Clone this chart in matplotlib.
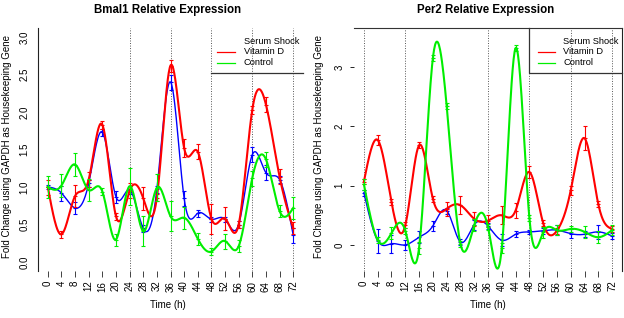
import numpy as np
import matplotlib
matplotlib.use("Agg")
import matplotlib.pyplot as plt
from matplotlib.lines import Line2D

plt.rcParams['font.family'] = ['Liberation Sans', 'DejaVu Sans']

# ---------------- data ----------------
hours = list(range(0, 73, 4))
tick_labels = [str(h) for h in hours]
series_names = ["Serum Shock", "Vitamin D", "Control"]

# Bmal1
bmal_serum = [1.00, 0.92, 0.72, 1.05, 1.73, 0.87, 0.96, 0.45, 0.97, 2.40, 0.85, 0.65,
              0.57, 0.57, 0.50, 1.43, 1.19, 1.10, 0.36]
bmal_serum_err = [0.03, 0.10, 0.08, 0.05, 0.05, 0.08, 0.05, 0.05, 0.05, 0.10, 0.10, 0.05,
                  0.03, 0.03, 0.05, 0.10, 0.10, 0.05, 0.10]
bmal_vitd = [1.00, 0.37, 0.88, 1.10, 1.83, 0.61, 0.95, 0.85, 0.86, 2.62, 1.52, 1.47,
             0.58, 0.58, 0.50, 2.03, 2.10, 1.14, 0.45]
bmal_vitd_err = [0.10, 0.05, 0.15, 0.10, 0.05, 0.05, 0.10, 0.15, 0.05, 0.08, 0.12, 0.10,
                 0.20, 0.15, 0.05, 0.05, 0.10, 0.10, 0.08]
bmal_ctrl = [1.00, 1.02, 1.30, 0.96, 0.94, 0.30, 1.01, 0.41, 0.99, 0.61, 0.59, 0.31,
             0.14, 0.28, 0.21, 1.12, 1.37, 0.68, 0.72]
bmal_ctrl_err = [0.15, 0.15, 0.15, 0.15, 0.05, 0.08, 0.25, 0.20, 0.18, 0.20, 0.15, 0.08,
                 0.05, 0.10, 0.08, 0.10, 0.10, 0.08, 0.15]

# Per2
per_serum = [0.88, 0.07, 0.02, 0.00, 0.13, 0.32, 0.58, 0.05, 0.34, 0.32, 0.08, 0.18,
             0.22, 0.24, 0.25, 0.19, 0.18, 0.22, 0.15]
per_serum_err = [0.05, 0.20, 0.15, 0.08, 0.10, 0.08, 0.05, 0.05, 0.08, 0.05, 0.10, 0.05,
                 0.03, 0.05, 0.08, 0.08, 0.05, 0.12, 0.05]
per_vitd = [1.07, 1.77, 0.72, 0.33, 1.68, 0.78, 0.61, 0.67, 0.44, 0.41, 0.50, 0.58,
            1.23, 0.37, 0.24, 0.92, 1.80, 0.69, 0.27]
per_vitd_err = [0.05, 0.08, 0.05, 0.05, 0.05, 0.05, 0.12, 0.15, 0.12, 0.10, 0.15, 0.12,
                0.10, 0.05, 0.05, 0.08, 0.20, 0.05, 0.05]
per_ctrl = [1.02, 0.08, 0.20, 0.24, -0.05, 3.15, 2.35, 0.02, 0.33, 0.30, -0.05, 3.32,
            0.46, 0.21, 0.25, 0.27, 0.22, 0.13, 0.25]
per_ctrl_err = [0.10, 0.05, 0.10, 0.05, 0.10, 0.05, 0.05, 0.05, 0.10, 0.05, 0.08, 0.05,
                0.05, 0.10, 0.08, 0.05, 0.10, 0.10, 0.08]

colors = {"Serum Shock": "#0000FF", "Vitamin D": "#FF0000", "Control": "#00EE00"}
widths = {"Serum Shock": 1.0, "Vitamin D": 1.5, "Control": 1.5}

W, H = 624, 318


def natural_spline(x, y, n=500):
    x = np.asarray(x, float)
    y = np.asarray(y, float)
    m = len(x)
    h = np.diff(x)
    A = np.zeros((m, m))
    r = np.zeros(m)
    A[0, 0] = 1
    A[-1, -1] = 1
    for i in range(1, m - 1):
        A[i, i - 1] = h[i - 1]
        A[i, i] = 2 * (h[i - 1] + h[i])
        A[i, i + 1] = h[i]
        r[i] = 6 * ((y[i + 1] - y[i]) / h[i] - (y[i] - y[i - 1]) / h[i - 1])
    M = np.linalg.solve(A, r)
    xs = np.linspace(x[0], x[-1], n)
    idx = np.clip(np.searchsorted(x, xs) - 1, 0, m - 2)
    x0 = x[idx]
    x1 = x[idx + 1]
    hh = x1 - x0
    a = (x1 - xs) / hh
    b = (xs - x0) / hh
    ys = a * y[idx] + b * y[idx + 1] + ((a ** 3 - a) * M[idx] + (b ** 3 - b) * M[idx + 1]) * hh ** 2 / 6
    return xs, ys


def fx(px):
    return px / W


def fy(py):
    return 1 - py / H


fig = plt.figure(figsize=(W / 100, H / 100), dpi=100)

ax1 = fig.add_axes([fx(38), fy(271), (303 - 38) / W, (271 - 28) / H])
ax2 = fig.add_axes([fx(354), fy(271), (622 - 354) / W, (271 - 28) / H])

panels = [
    (ax1, [(bmal_serum, bmal_serum_err), (bmal_vitd, bmal_vitd_err), (bmal_ctrl, bmal_ctrl_err)],
     (-0.12, 3.12), [0, 0.5, 1.0, 1.5, 2.0, 2.5, 3.0], ["0.0", "0.5", "1.0", "1.5", "2.0", "2.5", "3.0"],
     [24, 36, 48, 60, 72]),
    (ax2, [(per_serum, per_serum_err), (per_vitd, per_vitd_err), (per_ctrl, per_ctrl_err)],
     (-0.44, 3.66), [0, 1, 2, 3], ["0", "1", "2", "3"],
     [0, 12, 36, 48, 60, 72]),
]

for ax, data, ylim, yt, ytl, vlines in panels:
    ax.set_xlim(-2.88, 74.88)
    ax.set_ylim(*ylim)
    for v in vlines:
        ax.axvline(v, color="#555555", lw=0.7, ls=(0, (1, 1.6)), zorder=1)
    for name, (vals, errs) in zip(series_names, data):
        c = colors[name]
        xs, ys = natural_spline(hours, vals)
        ax.plot(xs, ys, color=c, lw=widths[name], zorder=3)
        ax.errorbar(hours, vals, yerr=errs, fmt="none", ecolor=c, elinewidth=0.8,
                    capsize=1.5, capthick=0.8, zorder=3)
        ax.plot(hours, vals, ls="none", marker="+", ms=3, mew=0.8, color=c, zorder=3)
    ax.set_xticks(hours)
    ax.set_xticklabels(tick_labels, rotation=90, fontsize=7)
    ax.set_yticks(yt)
    ax.set_yticklabels(ytl, rotation=90, va="center", fontsize=7)
    ax.tick_params(axis="x", length=4, width=0.6, pad=3, color="#222222")
    ax.set_facecolor("none")

ax1.tick_params(axis="y", length=0, pad=6)
ax2.tick_params(axis="y", length=3, width=0.6, pad=4)

for s in ["top", "right", "bottom"]:
    ax1.spines[s].set_visible(False)
ax1.spines["left"].set_linewidth(0.8)
ax1.spines["left"].set_color("#222222")
for s in ["left", "bottom"]:
    ax2.spines[s].set_visible(False)
ax2.spines["top"].set_linewidth(0.8)
ax2.spines["top"].set_color("#333333")
ax2.spines["right"].set_linewidth(0.8)
ax2.spines["right"].set_color("#222222")

# titles and axis labels
fig.text(fx(168), fy(10), "Bmal1 Relative Expression", ha="center", va="center",
         fontsize=8.3, fontweight="bold")
fig.text(fx(486), fy(10), "Per2 Relative Expression", ha="center", va="center",
         fontsize=8.3, fontweight="bold")
ylab = "Fold Change using GAPDH as Housekeeping Gene"
fig.text(fx(7), fy(147), ylab, rotation=90, ha="center", va="center", fontsize=7)
fig.text(fx(319), fy(147), ylab, rotation=90, ha="center", va="center", fontsize=7)
fig.text(fx(168), fy(305), "Time (h)", ha="center", va="center", fontsize=7)
fig.text(fx(488), fy(305), "Time (h)", ha="center", va="center", fontsize=7)

# legends (drawn by hand, like the original partially clipped boxes)
def legend(text_x, line_x0, line_x1, rows):
    for (label, py) in zip(series_names, rows):
        fig.text(fx(text_x), fy(py), label, ha="left", va="center", fontsize=6.7)
        if label != "Serum Shock":
            fig.add_artist(Line2D([fx(line_x0), fx(line_x1)], [fy(py), fy(py)],
                                  transform=fig.transFigure, color=colors[label], lw=0.9))

legend(244, 217, 235, [41, 52, 62.5])
fig.add_artist(Line2D([fx(211), fx(303)], [fy(73), fy(73)], transform=fig.transFigure,
                      color="#333333", lw=0.9))

legend(563, 538, 555, [41, 52, 62.5])
fig.add_artist(Line2D([fx(529), fx(529), fx(622)], [fy(28), fy(73), fy(73)],
                      transform=fig.transFigure, color="#333333", lw=0.9))

fig.savefig("out.png", dpi=100)
